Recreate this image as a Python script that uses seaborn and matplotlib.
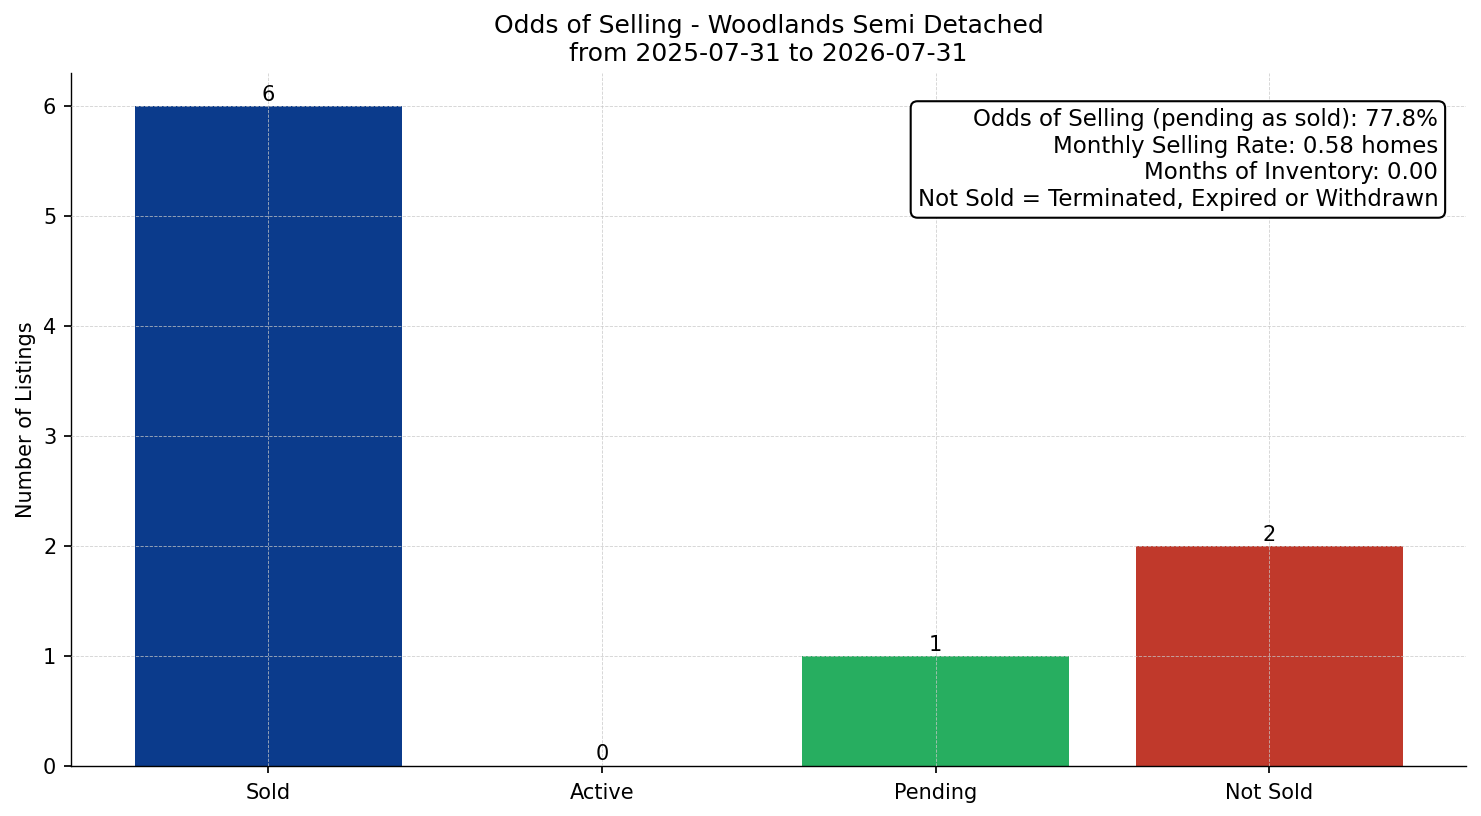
import matplotlib
matplotlib.use("Agg")
import matplotlib.pyplot as plt
import seaborn as sns
import pandas as pd

categories = ["Sold", "Active", "Pending", "Not Sold"]
counts = [6, 0, 1, 2]
colors = ["#0B3B8C", "#1f77b4", "#27AE60", "#C0392B"]
title = "Odds of Selling - Woodlands Semi Detached\nfrom 2025-07-31 to 2026-07-31"
info_lines = [
    "Odds of Selling (pending as sold): 77.8%",
    "Monthly Selling Rate: 0.58 homes",
    "Months of Inventory: 0.00",
    "Not Sold = Terminated, Expired or Withdrawn",
]

sns.set_style("ticks")
plt.rcParams['font.family'] = ['DejaVu Sans']
plt.rcParams['text.color'] = 'black'
plt.rcParams['axes.labelcolor'] = 'black'
plt.rcParams['xtick.color'] = 'black'
plt.rcParams['ytick.color'] = 'black'
plt.rcParams['axes.edgecolor'] = 'black'

DPI = 125
df = pd.DataFrame({"cat": categories, "n": counts})
fig, ax = plt.subplots(figsize=(1481 / DPI, 816 / DPI), dpi=DPI)
sns.barplot(data=df, x="cat", y="n", hue="cat", palette=dict(zip(categories, colors)),
            width=0.8, legend=False, ax=ax, saturation=1, linewidth=0)
for cont in ax.containers:
    ax.bar_label(cont, fontsize=12, padding=1, color="black")
ax.set_xlim(-0.59, 3.59)
ax.set_ylim(0, 6.3)
ax.set_xlabel("")
ax.set_ylabel("Number of Listings", fontsize=12)
ax.set_title(title, fontsize=14.4, color="black", pad=7)
ax.tick_params(axis="x", labelsize=12, length=4, width=1, pad=5.5)
ax.tick_params(axis="y", labelsize=12, length=4, width=1, pad=4.5)
ax.set_axisbelow(False)
for b in ax.patches:
    b.set_zorder(1)
ax.grid(True, linestyle="--", linewidth=0.5, color="#c8c8c8", alpha=0.8)
sns.despine(ax=ax)
ax.text(0.98, 0.95, "\n".join(info_lines), transform=ax.transAxes, ha="right", va="top",
        fontsize=13.15, zorder=5,
        bbox=dict(boxstyle="round,pad=0.3", facecolor="white", edgecolor="black", linewidth=1.2))
fig.subplots_adjust(left=0.048, right=0.99, top=0.91, bottom=0.061)
fig.savefig("out.png", dpi=DPI)
